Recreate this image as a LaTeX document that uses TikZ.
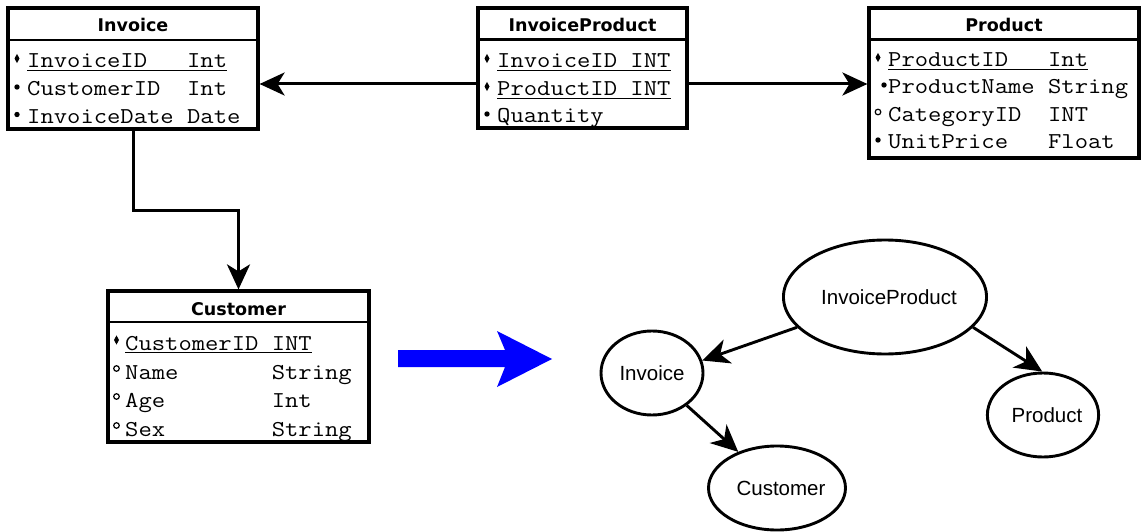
\documentclass[tikz,border=0pt]{standalone}
\usepackage{fontspec}
\usetikzlibrary{arrows.meta,shapes.geometric}
\newfontfamily\hdrfont{DejaVu Sans}
\newfontfamily\lblfont{Liberation Sans}

% monospaced field text, widened to the column pitch of the tables
\newcommand\fld[1]{\scalebox{1.14}[1]{\ttfamily\fontsize{22.7}{26}\selectfont #1}}

% column markers: key (diamond), required (dot), optional (ring)
\newcommand\keymark[1]{\fill (#1) +(0,4.6) -- +(2.5,0) -- +(0,-4.6) -- +(-2.5,0) -- cycle;}
\newcommand\reqmark[1]{\fill (#1) circle (2.7);}
\newcommand\optmark[1]{\draw[line width=1.2pt] (#1) circle (2.8);}

\tikzset{
  tbl/.style={draw, line width=3.2pt, inner sep=0pt, fill=white},
  sep/.style={line width=2.8pt},
  hdr/.style={inner sep=0pt, anchor=base, font=\hdrfont\bfseries\fontsize{17.5}{20}\selectfont},
  field/.style={inner sep=0pt, anchor=base west},
  uline/.style={line width=1.4pt},
  link/.style={line width=3pt, -{Stealth[length=25pt, width=23pt, inset=7pt]}},
  ent/.style={ellipse, draw, line width=2.9pt, inner sep=0pt,
    font=\lblfont\fontsize{20.5}{24}\selectfont},
  dep/.style={line width=2.9pt, -{Stealth[length=27pt, width=25pt, inset=8pt]}},
}

\begin{document}
\begin{tikzpicture}[x=1pt, y=-1pt, line join=miter]
\useasboundingbox (0,0) rectangle (1141,532);

% ---------------- Invoice table ----------------
\node[tbl, minimum width=250, minimum height=121] (inv) at (133,68.5) {};
\node[hdr] (invh) at (133,32) {Invoice};
\draw[sep] (inv.west |- 0,40) -- (inv.east |- 0,40);
\node[field] (inv1) at (27,68) {\fld{InvoiceID\ \ \ Int}};
\node[field] (inv2) at (27,96) {\fld{CustomerID\ \ Int}};
\node[field] (inv3) at (27,124) {\fld{InvoiceDate Date}};
\draw[uline] ([yshift=-2.5pt]inv1.base west) -- ([yshift=-2.5pt]inv1.base east);
\keymark{17,58.5}
\reqmark{17,87}
\reqmark{17,114.5}

% ---------------- InvoiceProduct table ----------------
\node[tbl, minimum width=209, minimum height=120] (ip) at (582.5,68) {};
\node[hdr] (iph) at (582.5,32) {InvoiceProduct};
\draw[sep] (ip.west |- 0,39.5) -- (ip.east |- 0,39.5);
\node[field] (ip1) at (497,68) {\fld{InvoiceID INT}};
\node[field] (ip2) at (497,96) {\fld{ProductID INT}};
\node[field] (ip3) at (497,123) {\fld{Quantity}};
\draw[uline] ([yshift=-2.5pt]ip1.base west) -- ([yshift=-2.5pt]ip1.base east);
\draw[uline] ([yshift=-2.5pt]ip2.base west) -- ([yshift=-2.5pt]ip2.base east);
\keymark{487,58.5}
\keymark{487,86.5}
\reqmark{487,114}

% ---------------- Product table ----------------
\node[tbl, minimum width=270, minimum height=150] (prod) at (1004,83) {};
\node[hdr] (prodh) at (1004,32) {Product};
\draw[sep] (prod.west |- 0,39.5) -- (prod.east |- 0,39.5);
\node[field] (pr1) at (888,67) {\fld{ProductID\ \ \ Int}};
\node[field] (pr2) at (888,94) {\fld{ProductName String}};
\node[field] (pr3) at (888,121.5) {\fld{CategoryID\ \ INT}};
\node[field] (pr4) at (888,149) {\fld{UnitPrice\ \ \ Float}};
\draw[uline] ([yshift=-2.5pt]pr1.base west) -- ([yshift=-2.5pt]pr1.base east);
\keymark{878,57.5}
\reqmark{884,85}
\optmark{878,112}
\reqmark{878,140}

% ---------------- Customer table ----------------
\node[tbl, minimum width=261, minimum height=151] (cust) at (238.5,366.5) {};
\node[hdr] (custh) at (238.5,315) {Customer};
\draw[sep] (cust.west |- 0,322) -- (cust.east |- 0,322);
\node[field] (cu1) at (125,350) {\fld{CustomerID INT}};
\node[field] (cu2) at (125,379) {\fld{Name\ \ \ \ \ \ \ String}};
\node[field] (cu3) at (125,407) {\fld{Age\ \ \ \ \ \ \ \ Int}};
\node[field] (cu4) at (125,436) {\fld{Sex\ \ \ \ \ \ \ \ String}};
\draw[uline] ([yshift=-2.5pt]cu1.base west) -- ([yshift=-2.5pt]cu1.base east);
\keymark{116.5,340}
\optmark{116.5,368.5}
\optmark{116.5,396.5}
\optmark{116.5,425.5}

% ---------------- table references ----------------
\draw[link] (ip.west |- 0,84) -- (inv.east |- 0,84);
\draw[link] (ip.east |- 0,84) -- (prod.west |- 0,84);
\coordinate (bend1) at (133,210);
\coordinate (bend2) at (238.5,210);
\draw[link] (inv.south -| bend1) -- (bend1) -- (bend2) -- (cust.north -| bend2);

% ---------------- transformation arrow ----------------
\fill[blue] (398,350) -- (505,350) -- (497,331) -- (552,359) -- (497,387)
  -- (505,367) -- (398,367) -- cycle;

% ---------------- dependency graph ----------------
\node[ent, minimum width=202, minimum height=114] (einvp) at (885,297) {\hspace{8pt}InvoiceProduct};
\node[ent, minimum width=102, minimum height=84] (einv) at (652,373) {Invoice};
\node[ent, minimum width=100, minimum height=84] (ecust) at (777,488) {\hspace{8pt}Customer};
\node[ent, minimum width=102, minimum height=84] (eprod) at (1043,415) {\hspace{8pt}Product};

\draw[dep] (einvp.199) -- (einv.14);
\draw[dep] (einvp.341) -- (eprod.91);
\draw[dep] (einv.317) -- (ecust.137);
\end{tikzpicture}
\end{document}
